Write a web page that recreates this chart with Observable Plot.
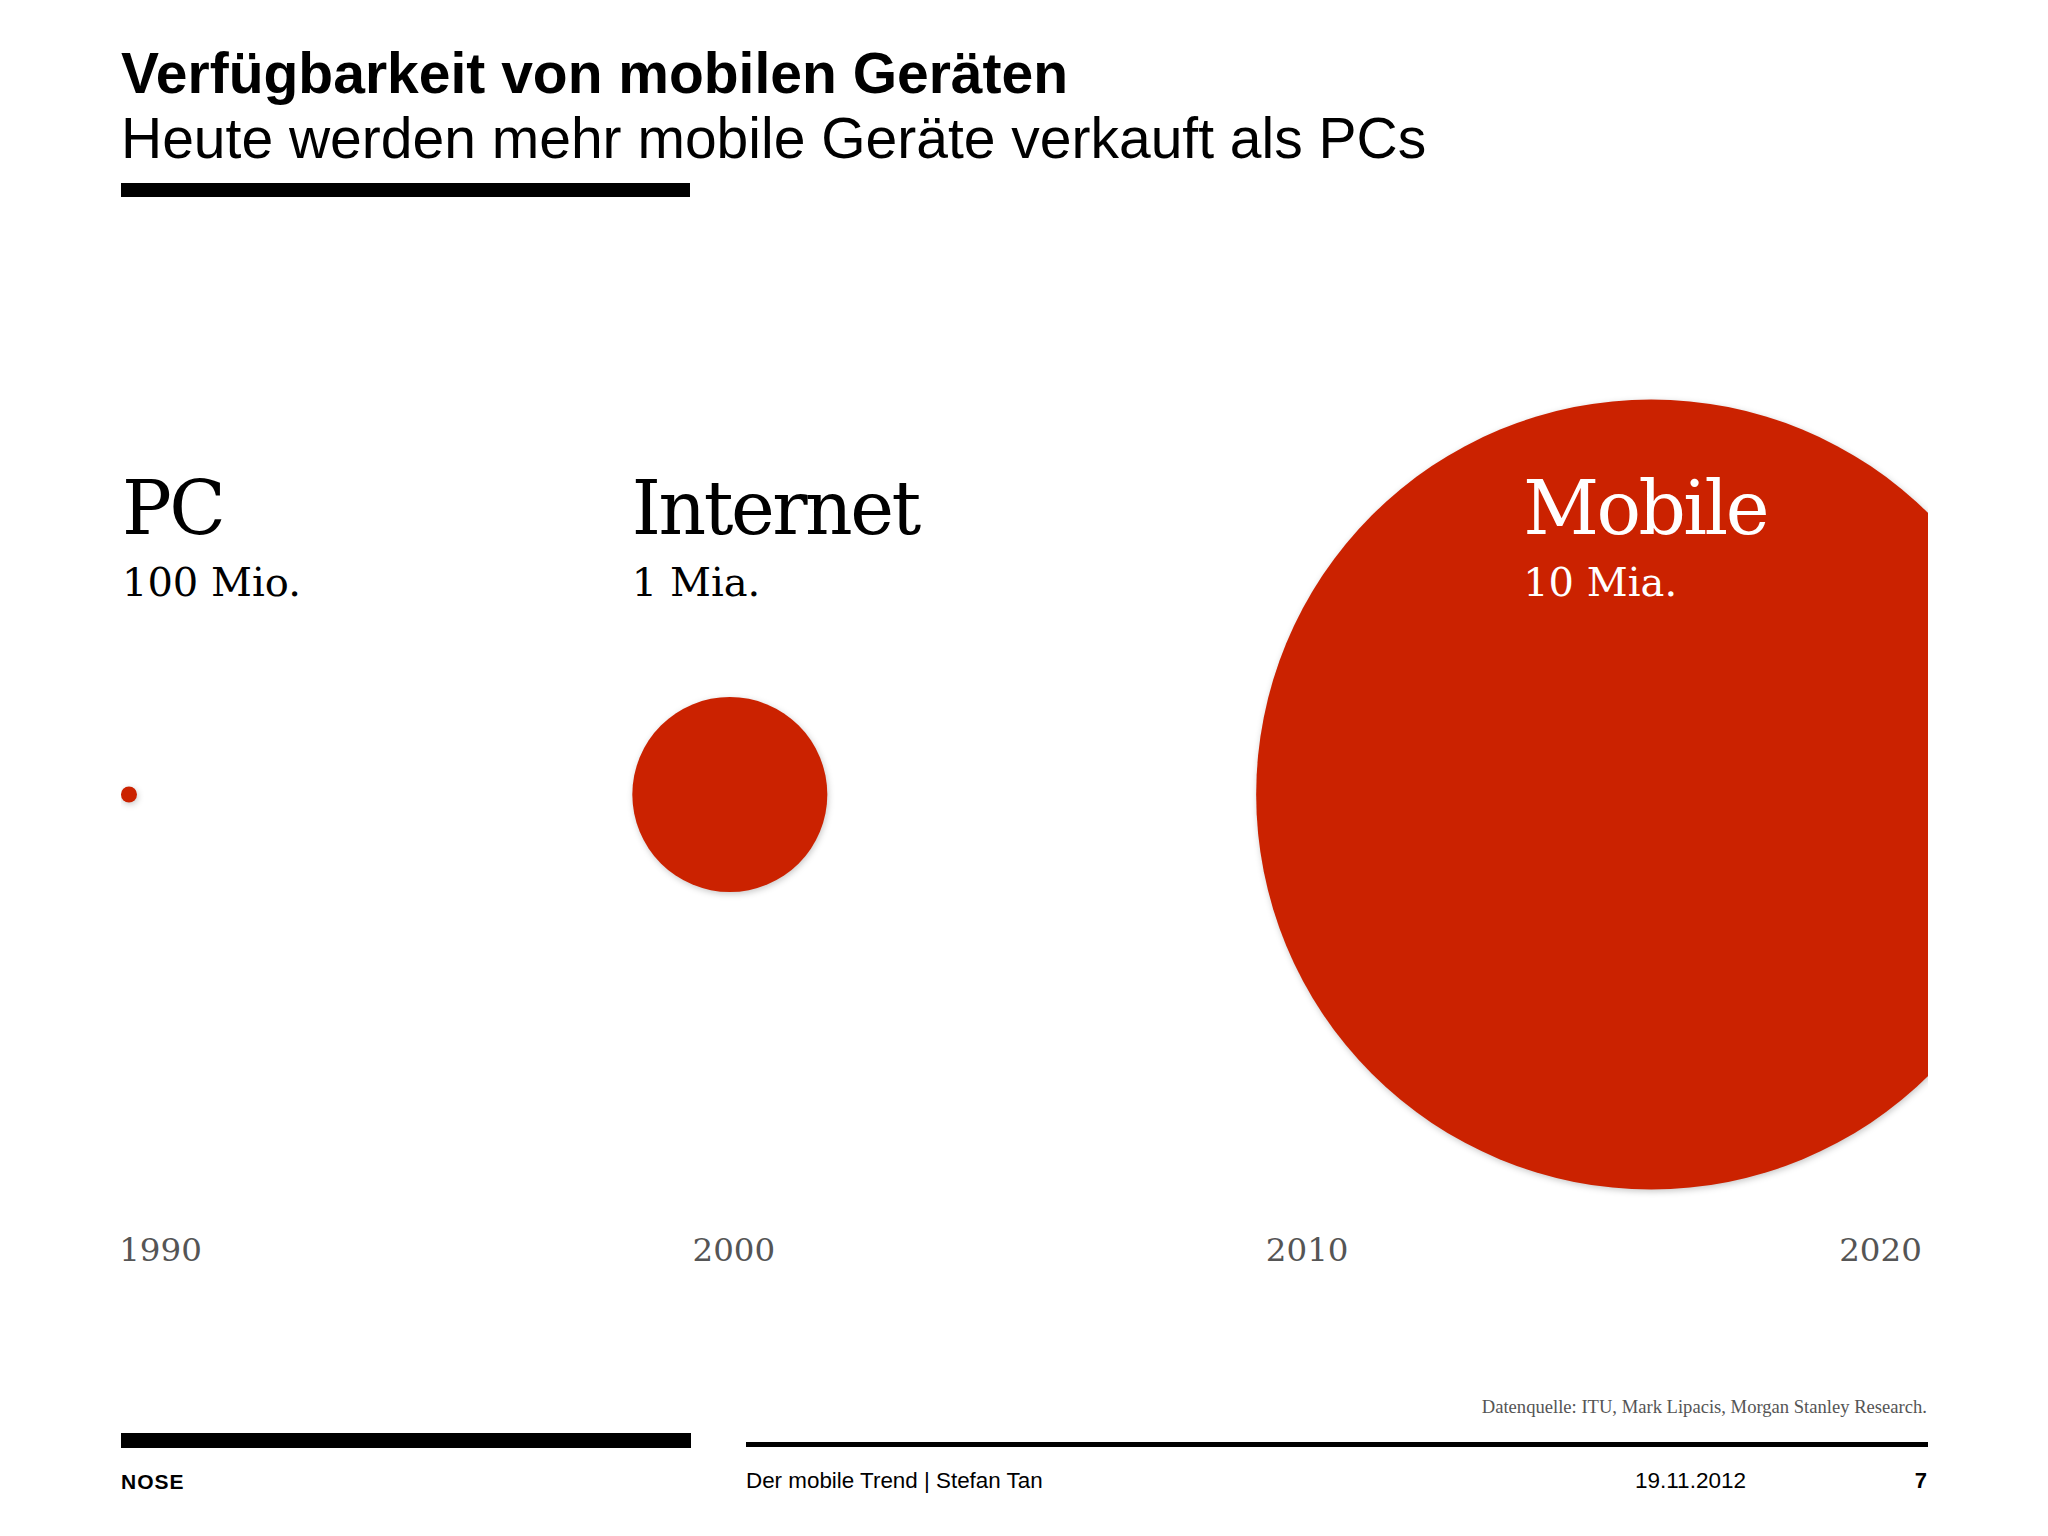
<!DOCTYPE html>
<html>
<head>
<meta charset="utf-8">
<script src="https://cdn.jsdelivr.net/npm/d3@7"></script>
<script src="https://cdn.jsdelivr.net/npm/@observablehq/plot@0.6"></script>
<style>
  html, body { margin: 0; padding: 0; background: #ffffff; }
  #page { position: relative; width: 2048px; height: 1536px; overflow: hidden; background: #ffffff; }
  .t { position: absolute; white-space: nowrap; line-height: 1; color: #000; }
  .sans { font-family: "Liberation Sans", Arial, Helvetica, sans-serif; }
  .serif { font-family: "Liberation Serif", "Times New Roman", serif; }
  .bar { position: absolute; background: #000; }
  #chart { position: absolute; left: 0; top: 230px; }
  .chart circle { filter: drop-shadow(1px 2px 3px rgba(0,0,0,0.22)); }
  .chart g[font-size="74"] { letter-spacing: -2.5px; }
</style>
</head>
<body>
<div id="page">
  <div class="t sans" style="left:121px; top:44.7px; font-size:57px; font-weight:bold;">Verfügbarkeit von mobilen Geräten</div>
  <div class="t sans" style="left:121px; top:109.7px; font-size:57px;">Heute werden mehr mobile Geräte verkauft als PCs</div>
  <div class="bar" style="left:121px; top:183px; width:569px; height:14px;"></div>
  <div id="chart"></div>
  <div class="t serif" style="right:121px; top:1398px; font-size:18.6px; color:#555;">Datenquelle: ITU, Mark Lipacis, Morgan Stanley Research.</div>
  <div class="bar" style="left:121px; top:1433px; width:570px; height:15px;"></div>
  <div class="bar" style="left:746px; top:1442px; width:1182px; height:5px;"></div>
  <div class="t sans" style="left:121px; top:1471px; font-size:21px; font-weight:bold; letter-spacing:1px;">NOSE</div>
  <div class="t sans" style="left:746px; top:1469.5px; font-size:22.4px;">Der mobile Trend | Stefan Tan</div>
  <div class="t sans" style="left:1635px; top:1469.5px; font-size:22.5px;">19.11.2012</div>
  <div class="t sans" style="right:121px; top:1469.5px; font-size:22px; font-weight:bold;">7</div>
</div>
<script>
// Data
const categories = ["PC", "Internet", "Mobile"];
const valueLabels = ["100 Mio.", "1 Mia.", "10 Mia."];
const devices = [1e8, 1e9, 1e10];
const years = [1989.45, 1999.93, 2016];
const tickYears = [1990, 2000, 2010, 2020];

const data = categories.map((c, i) => ({name: c, label: valueLabels[i], value: devices[i], year: years[i]}));

const serif = "'DejaVu Serif', Georgia, serif";
const red = "#cb2200";

function labelMarks(name, dx, color) {
  const sub = data.filter(d => d.name === name);
  return [
    Plot.text(sub, {x: "year", text: "name", frameAnchor: "top", lineAnchor: "bottom", textAnchor: "start",
      dy: 150, dx, fontFamily: serif, fontSize: 74, fill: color}),
    Plot.text(sub, {x: "year", text: "label", frameAnchor: "top", lineAnchor: "bottom", textAnchor: "start",
      dy: 212, dx, fontFamily: serif, fontSize: 40, fill: color})
  ];
}

const chart = Plot.plot({
  width: 2048,
  height: 1080,
  marginLeft: 121,
  marginRight: 120,
  marginTop: 153,
  marginBottom: 105,
  className: "chart",
  style: {background: "transparent", overflow: "visible"},
  x: {domain: [1990, 2020], insetLeft: 39, insetRight: 48},
  r: {type: "linear", domain: [0, 1e8, 1e9, 1e10], range: [0, 8, 97.5, 395]},
  marks: [
    Plot.dot(data, {x: "year", r: "value", fill: red, stroke: null, clip: true}),
    Plot.axisX({ticks: tickYears, tickSize: 0, tickPadding: 32, tickFormat: d => String(d), label: null,
      fontSize: 32.5, fontFamily: serif, color: "#555"}),
    ...labelMarks("PC", -7, "#000"),
    ...labelMarks("Internet", -98, "#000"),
    ...labelMarks("Mobile", -128, "#fff")
  ]
});
document.getElementById("chart").appendChild(chart);
</script>
</body>
</html>
